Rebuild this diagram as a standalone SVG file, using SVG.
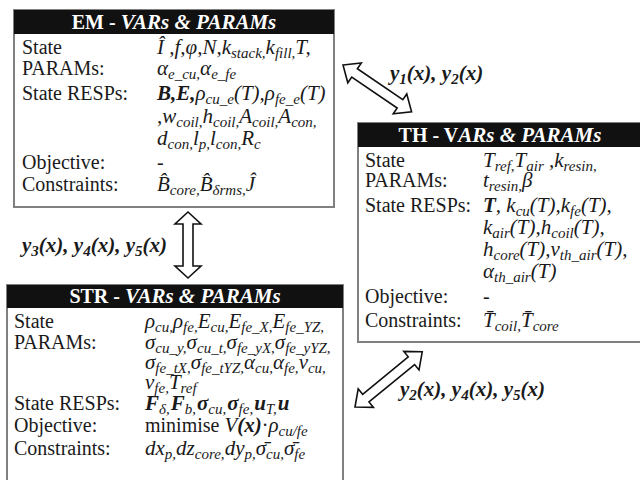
<svg xmlns="http://www.w3.org/2000/svg" width="640" height="480" viewBox="0 0 640 480">
<style>
text{font-family:"Liberation Serif","Times New Roman","DejaVu Serif",serif;font-size:20px;fill:#1a1a1a}
.t{fill:#fff;font-weight:bold;font-size:20px}
.i{font-style:italic;font-size:21px}
.b{font-weight:bold;font-style:italic;font-size:21px}
.bo{font-weight:bold}
.s{font-size:15px}
.n{font-weight:normal}
.box{fill:#fff;stroke:#808080;stroke-width:2}
.hd{fill:#111}
.arr{fill:#fff;stroke:#111;stroke-width:1.6;stroke-linejoin:miter}
</style>
<rect width="640" height="480" fill="#fff"/>
<g id="connectors">
<path class="arr" transform="translate(188,212) rotate(90)" d="M0,0 L12,-13 L12,-5 L54,-5 L54,-13 L66,0 L54,13 L54,5 L12,5 L12,13 Z"/>
<path class="arr" transform="translate(343,65) rotate(34.3)" d="M0,0 L14,-12 L14,-5 L69,-5 L69,-12 L83,0 L69,12 L69,5 L14,5 L14,12 Z"/>
<path class="arr" transform="translate(355,407) rotate(-39.4)" d="M0,0 L14,-12 L14,-5 L73,-5 L73,-12 L87,0 L73,12 L73,5 L14,5 L14,12 Z"/>
<text class="b" x="22" y="252">y<tspan class="s" dy="4">3</tspan><tspan dy="-4">(x), y</tspan><tspan class="s" dy="4">4</tspan><tspan dy="-4">(x), y</tspan><tspan class="s" dy="4">5</tspan><tspan dy="-4">(x)</tspan></text>
<text class="b" x="390" y="80">y<tspan class="s" dy="4">1</tspan><tspan dy="-4">(x), y</tspan><tspan class="s" dy="4">2</tspan><tspan dy="-4">(x)</tspan></text>
<text class="b" x="400" y="396">y<tspan class="s" dy="4">2</tspan><tspan dy="-4">(x), y</tspan><tspan class="s" dy="4">4</tspan><tspan dy="-4">(x), y</tspan><tspan class="s" dy="4">5</tspan><tspan dy="-4">(x)</tspan></text>
</g>
<g id="em">
<rect class="box" x="14" y="10" width="320" height="197"/>
<rect class="hd" x="14" y="10" width="320" height="24"/>
<text class="t" x="174" y="29" text-anchor="middle">EM - <tspan class="i" font-size="20px">VARs &amp; PARAMs</tspan></text>
<text x="22" y="54">State</text>
<text x="22" y="75">PARAMs:</text>
<text x="22" y="100">State RESPs:</text>
<text x="22" y="169">Objective:</text>
<text x="22" y="191">Constraints:</text>
<text class="i" x="157" y="54">Î ,f,φ,N,k<tspan class="s" dy="4">stack,</tspan><tspan dy="-4">k</tspan><tspan class="s" dy="4">fill,</tspan><tspan dy="-4">T,</tspan></text>
<text class="i" x="157" y="75">α<tspan class="s" dy="4">e_cu,</tspan><tspan dy="-4">α</tspan><tspan class="s" dy="4">e_fe</tspan></text>
<text class="i" x="157" y="100"><tspan class="bo">B,E,</tspan>ρ<tspan class="s" dy="4">cu_e</tspan><tspan dy="-4">(T),ρ</tspan><tspan class="s" dy="4">fe_e</tspan><tspan dy="-4">(T)</tspan></text>
<text class="i" x="157" y="123">,w<tspan class="s" dy="4">coil,</tspan><tspan dy="-4">h</tspan><tspan class="s" dy="4">coil,</tspan><tspan dy="-4">A</tspan><tspan class="s" dy="4">coil,</tspan><tspan dy="-4">A</tspan><tspan class="s" dy="4">con,</tspan></text>
<text class="i" x="157" y="145">d<tspan class="s" dy="4">con,</tspan><tspan dy="-4">l</tspan><tspan class="s" dy="4">p,</tspan><tspan dy="-4">l</tspan><tspan class="s" dy="4">con,</tspan><tspan dy="-4">R</tspan><tspan class="s" dy="4">c</tspan></text>
<text x="157" y="169">-</text>
<text class="i" x="157" y="191">B̂<tspan class="s" dy="4">core,</tspan><tspan dy="-4">B̂</tspan><tspan class="s" dy="4">δrms,</tspan><tspan dy="-4">Ĵ</tspan></text>
</g>
<g id="th">
<rect class="box" x="358" y="123" width="290" height="219"/>
<rect class="hd" x="358" y="123" width="290" height="24"/>
<text class="t" x="500" y="142" text-anchor="middle">TH - V<tspan class="i" font-size="20px">ARs &amp; PARAMs</tspan></text>
<text x="365" y="167">State</text>
<text x="365" y="187">PARAMs:</text>
<text x="365" y="212">State RESPs:</text>
<text x="365" y="303">Objective:</text>
<text x="365" y="327">Constraints:</text>
<text class="i" x="483" y="167">T<tspan class="s" dy="4">ref,</tspan><tspan dy="-4">T</tspan><tspan class="s" dy="4">air</tspan><tspan dy="-4"> ,k</tspan><tspan class="s" dy="4">resin,</tspan></text>
<text class="i" x="483" y="187">t<tspan class="s" dy="4">resin,</tspan><tspan dy="-4">β</tspan></text>
<text class="i" x="483" y="212"><tspan class="bo">T</tspan>, k<tspan class="s" dy="4">cu</tspan><tspan dy="-4">(T),k</tspan><tspan class="s" dy="4">fe</tspan><tspan dy="-4">(T),</tspan></text>
<text class="i" x="483" y="234">k<tspan class="s" dy="4">air</tspan><tspan dy="-4">(T),h</tspan><tspan class="s" dy="4">coil</tspan><tspan dy="-4">(T),</tspan></text>
<text class="i" x="483" y="256">h<tspan class="s" dy="4">core</tspan><tspan dy="-4">(T),ν</tspan><tspan class="s" dy="4">th_air</tspan><tspan dy="-4">(T),</tspan></text>
<text class="i" x="483" y="278">α<tspan class="s" dy="4">th_air</tspan><tspan dy="-4">(T)</tspan></text>
<text x="483" y="303">-</text>
<text class="i" x="483" y="327">T̄<tspan class="s" dy="4">coil,</tspan><tspan dy="-4">T̄</tspan><tspan class="s" dy="4">core</tspan></text>
</g>
<g id="str">
<rect class="box" x="7" y="285" width="336" height="210"/>
<rect class="hd" x="7" y="285" width="336" height="23"/>
<text class="t" x="175" y="303" text-anchor="middle">STR - <tspan class="i" font-size="20px">VARs &amp; PARAMs</tspan></text>
<text x="14" y="328">State</text>
<text x="14" y="349">PARAMs:</text>
<text x="14" y="410">State RESPs:</text>
<text x="14" y="432">Objective:</text>
<text x="14" y="455">Constraints:</text>
<text class="i" x="145" y="328">ρ<tspan class="s" dy="4">cu,</tspan><tspan dy="-4">ρ</tspan><tspan class="s" dy="4">fe,</tspan><tspan dy="-4">E</tspan><tspan class="s" dy="4">cu,</tspan><tspan dy="-4">E</tspan><tspan class="s" dy="4">fe_X,</tspan><tspan dy="-4">E</tspan><tspan class="s" dy="4">fe_YZ,</tspan></text>
<text class="i" x="145" y="349">σ<tspan class="s" dy="4">cu_y,</tspan><tspan dy="-4">σ</tspan><tspan class="s" dy="4">cu_t,</tspan><tspan dy="-4">σ</tspan><tspan class="s" dy="4">fe_yX,</tspan><tspan dy="-4">σ</tspan><tspan class="s" dy="4">fe_yYZ,</tspan></text>
<text class="i" x="145" y="369">σ<tspan class="s" dy="4">fe_tX,</tspan><tspan dy="-4">σ</tspan><tspan class="s" dy="4">fe_tYZ,</tspan><tspan dy="-4">α</tspan><tspan class="s" dy="4">cu,</tspan><tspan dy="-4">α</tspan><tspan class="s" dy="4">fe,</tspan><tspan dy="-4">ν</tspan><tspan class="s" dy="4">cu,</tspan></text>
<text class="i" x="145" y="389">ν<tspan class="s" dy="4">fe,</tspan><tspan dy="-4">T</tspan><tspan class="s" dy="4">ref</tspan></text>
<text class="b" x="145" y="410">F<tspan class="s n" dy="4">δ,</tspan><tspan dx="1" dy="-4">F</tspan><tspan class="s n" dy="4">b,</tspan><tspan dx="1" dy="-4">σ</tspan><tspan class="s n" dy="4">cu,</tspan><tspan dx="1" dy="-4">σ</tspan><tspan class="s n" dy="4">fe,</tspan><tspan dx="1" dy="-4">u</tspan><tspan class="s n" dy="4">T,</tspan><tspan dx="1" dy="-4">u</tspan></text>
<text x="145" y="432">minimise <tspan class="i">V</tspan><tspan class="b">(x)</tspan>·<tspan class="i">ρ</tspan><tspan class="i s" dy="4">cu/fe</tspan></text>
<text class="i" x="145" y="455">dx<tspan class="s" dy="4">p,</tspan><tspan dy="-4">dz</tspan><tspan class="s" dy="4">core,</tspan><tspan dy="-4">dy</tspan><tspan class="s" dy="4">p,</tspan><tspan dy="-4">σ̄</tspan><tspan class="s" dy="4">cu,</tspan><tspan dy="-4">σ̄</tspan><tspan class="s" dy="4">fe</tspan></text>
</g>
</svg>
